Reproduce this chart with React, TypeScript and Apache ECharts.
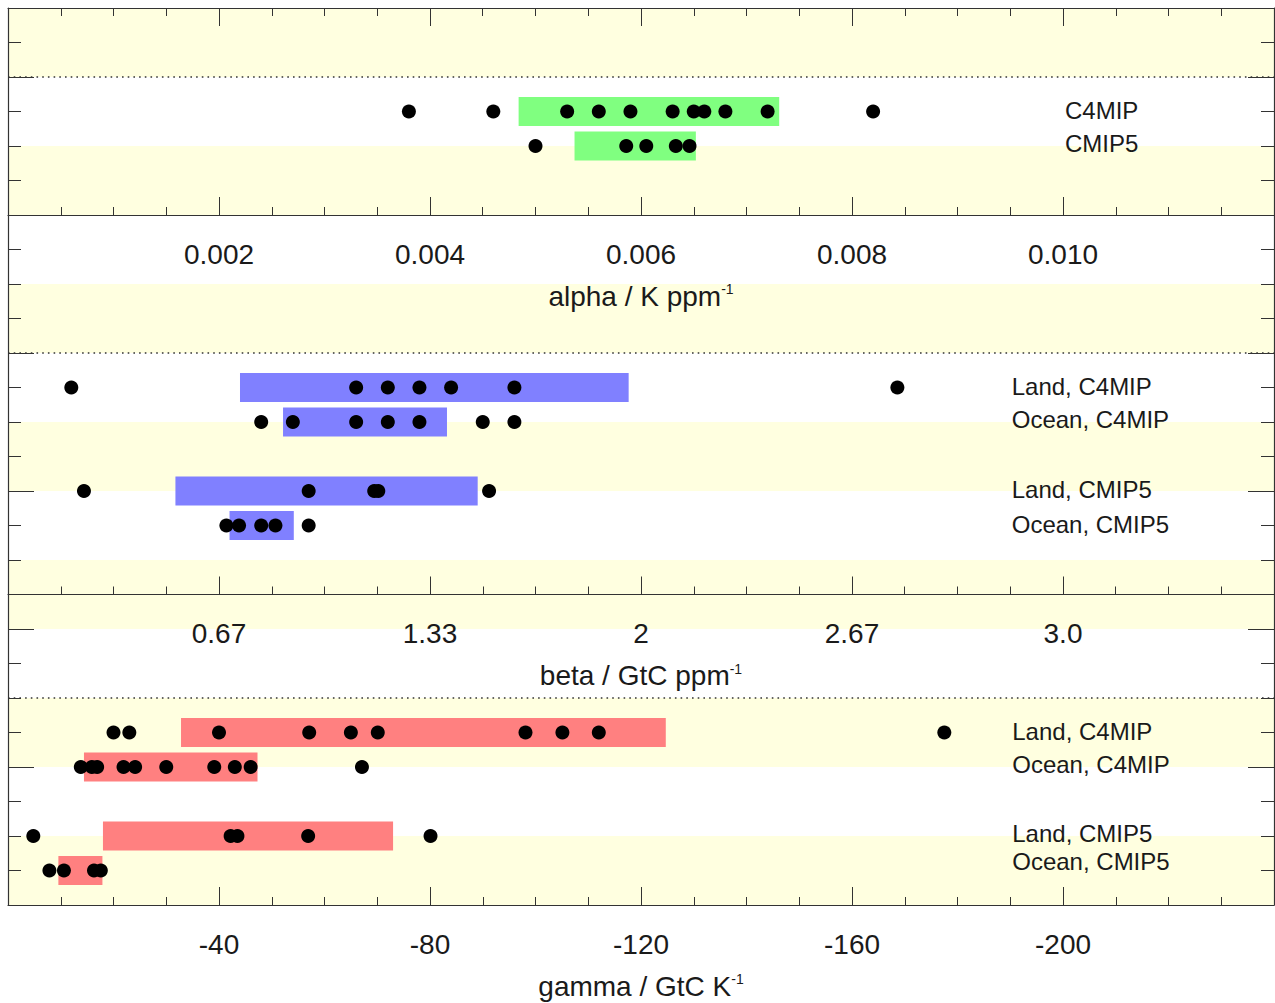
import React, { useEffect, useRef } from 'react';
import * as echarts from 'echarts';

// ---------------- data ----------------
// alpha / K ppm^-1
const alphaC4MIP = [0.0038, 0.0046, 0.0053, 0.0056, 0.0059, 0.0063, 0.0065, 0.0066, 0.0068, 0.0072, 0.0082];
const alphaCMIP5 = [0.005, 0.00586, 0.00605, 0.00633, 0.00646];
const alphaC4MIPRange = [0.00484, 0.00731];
const alphaCMIP5Range = [0.00537, 0.00652];

// beta / GtC ppm^-1
const betaLandC4MIP = [0.2, 1.1, 1.2, 1.3, 1.4, 1.6, 2.81];
const betaOceanC4MIP = [0.8, 0.9, 1.1, 1.2, 1.3, 1.5, 1.6];
const betaLandCMIP5 = [0.24, 0.95, 1.157, 1.17, 1.52];
const betaOceanCMIP5 = [0.69, 0.73, 0.8, 0.845, 0.95];
const betaLandC4MIPRange = [0.733, 1.961];
const betaOceanC4MIPRange = [0.869, 1.387];
const betaLandCMIP5Range = [0.529, 1.484];
const betaOceanCMIP5Range = [0.7, 0.903];

// gamma / GtC K^-1
const gammaLandC4MIP = [-20, -23, -40, -57.1, -65, -70.1, -98.1, -105.1, -112, -177.5];
const gammaOceanC4MIP = [-13.8, -15.9, -16.9, -21.9, -24.1, -30, -39.1, -43, -46, -67.1];
const gammaLandCMIP5 = [-4.8, -42.2, -43.5, -56.9, -80.1];
const gammaOceanCMIP5 = [-7.85, -10.6, -16.3, -17.6];
const gammaLandC4MIPRange = [-32.8, -124.7];
const gammaOceanC4MIPRange = [-14.4, -47.3];
const gammaLandCMIP5Range = [-18, -73];
const gammaOceanCMIP5Range = [-9.55, -17.9];

// rows (counted from the bottom of the frame, one unit per row)
const alphaRows = [23, 22];
const betaRows = [15, 14, 12, 11];
const gammaRows = [5, 4, 2, 1];
const alphaLabelRows = [23.04, 22.06];
const betaLabelRows = [15.04, 14.06, 12.04, 11.04];
const gammaLabelRows = [5.04, 4.06, 2.06, 1.25];

const alphaNames = ['C4MIP', 'CMIP5'];
const fourNames = ['Land, C4MIP', 'Ocean, C4MIP', 'Land, CMIP5', 'Ocean, CMIP5'];
const alphaLabelX = 0.01;
const betaLabelX = 3.165;
const gammaLabelX = -190;

const yellowBands = [
  [24, 26], [20, 22], [16, 18], [12, 14], [8, 10], [4, 6], [0, 2],
];
const dottedRows = [24, 16, 6];

const betaTickLabels = ['0.67', '1.33', '2', '2.67', '3.0'];

// ---------------- styles ----------------
const FONT = '"Liberation Sans", Arial, Helvetica, sans-serif';
const AXIS = '#333';
const TEXT = '#1a1a1a';
const BAND = '#FFFFE0';
const GREEN = '#80FF80';
const BLUE = '#8080FF';
const RED = '#FF8080';

function buildOption() {
  const nameStyle = {
    fontSize: 28,
    fontFamily: FONT,
    color: TEXT,
    rich: { sup: { fontSize: 14, fontFamily: FONT, color: TEXT, verticalAlign: 'top' } },
  };
  const xAxisBase = (o: any) => ({
    type: 'value',
    gridIndex: 0,
    position: 'bottom',
    z: 10,
    axisLine: { show: true, onZero: false, lineStyle: { color: AXIS, width: 1.2 } },
    axisTick: { show: true, inside: true, length: 18, lineStyle: { color: AXIS, width: 1 } },
    minorTick: { show: true, splitNumber: 4, length: 8, lineStyle: { color: AXIS, width: 1 } },
    splitLine: { show: false },
    minorSplitLine: { show: false },
    nameLocation: 'middle',
    nameGap: 67,
    nameTextStyle: nameStyle,
    ...o,
  });
  const tickLabel = (margin: number, formatter: any) => ({
    show: true,
    margin,
    fontSize: 28,
    fontFamily: FONT,
    color: TEXT,
    showMinLabel: false,
    showMaxLabel: false,
    formatter,
  });

  const yAxisBase = (position: string, interval: number, len: number, line: boolean) => ({
    type: 'value',
    gridIndex: 0,
    position,
    min: 0,
    max: 26,
    interval,
    z: 10,
    axisLine: { show: line, onZero: false, lineStyle: { color: AXIS, width: 1.2 } },
    axisTick: { show: true, inside: true, length: len, lineStyle: { color: AXIS, width: 1 } },
    axisLabel: { show: false },
    splitLine: { show: false },
  });

  const panels = [
    {
      axis: 0,
      color: GREEN,
      rows: alphaRows,
      dots: [alphaC4MIP, alphaCMIP5],
      ranges: [alphaC4MIPRange, alphaCMIP5Range],
      names: alphaNames,
      labelRows: alphaLabelRows,
      labelX: alphaLabelX,
    },
    {
      axis: 1,
      color: BLUE,
      rows: betaRows,
      dots: [betaLandC4MIP, betaOceanC4MIP, betaLandCMIP5, betaOceanCMIP5],
      ranges: [betaLandC4MIPRange, betaOceanC4MIPRange, betaLandCMIP5Range, betaOceanCMIP5Range],
      names: fourNames,
      labelRows: betaLabelRows,
      labelX: betaLabelX,
    },
    {
      axis: 2,
      color: RED,
      rows: gammaRows,
      dots: [gammaLandC4MIP, gammaOceanC4MIP, gammaLandCMIP5, gammaOceanCMIP5],
      ranges: [gammaLandC4MIPRange, gammaOceanC4MIPRange, gammaLandCMIP5Range, gammaOceanCMIP5Range],
      names: fourNames,
      labelRows: gammaLabelRows,
      labelX: gammaLabelX,
    },
  ];

  const series: any[] = [];

  series.push({
    type: 'custom',
    xAxisIndex: 0,
    yAxisIndex: 0,
    z: 1,
    silent: true,
    encode: { x: 0, y: [1, 2] },
    data: yellowBands.map((b) => [0, b[0], b[1]]),
    renderItem: (params: any, api: any) => {
      const cs = params.coordSys;
      const y0 = api.coord([0, api.value(1)])[1];
      const y1 = api.coord([0, api.value(2)])[1];
      return {
        type: 'rect',
        shape: { x: cs.x, y: Math.min(y0, y1), width: cs.width, height: Math.abs(y1 - y0) },
        style: { fill: BAND },
      };
    },
  });

  series.push({
    type: 'custom',
    xAxisIndex: 0,
    yAxisIndex: 0,
    z: 2,
    silent: true,
    encode: { x: 0, y: 1 },
    data: dottedRows.map((r) => [0, r]),
    renderItem: (params: any, api: any) => {
      const cs = params.coordSys;
      const y = api.coord([0, api.value(1)])[1];
      return {
        type: 'line',
        shape: { x1: cs.x, y1: y, x2: cs.x + cs.width, y2: y },
        style: { stroke: AXIS, lineWidth: 1.4, lineDash: [1.6, 4.1] },
      };
    },
  });

  panels.forEach((p) => {
    series.push({
      type: 'custom',
      xAxisIndex: p.axis,
      yAxisIndex: 0,
      z: 3,
      silent: true,
      encode: { x: [0, 1], y: 2 },
      data: p.ranges.map((r, i) => [r[0], r[1], p.rows[i]]),
      renderItem: (params: any, api: any) => {
        const s = api.coord([api.value(0), api.value(2)]);
        const e = api.coord([api.value(1), api.value(2)]);
        const h = api.size([0, 1])[1] * 0.84;
        return {
          type: 'rect',
          shape: { x: Math.min(s[0], e[0]), y: s[1] - h / 2, width: Math.abs(e[0] - s[0]), height: h },
          style: { fill: p.color },
        };
      },
    });
    const pts: number[][] = [];
    p.dots.forEach((arr, i) => arr.forEach((v) => pts.push([v, p.rows[i]])));
    series.push({
      type: 'scatter',
      xAxisIndex: p.axis,
      yAxisIndex: 0,
      z: 4,
      silent: true,
      symbol: 'circle',
      symbolSize: 14,
      itemStyle: { color: '#000', opacity: 1 },
      data: pts,
    });
    series.push({
      type: 'scatter',
      xAxisIndex: p.axis,
      yAxisIndex: 0,
      z: 4,
      silent: true,
      symbol: 'circle',
      symbolSize: 0,
      itemStyle: { color: '#000', opacity: 1 },
      label: {
        show: true,
        position: 'right',
        distance: 2,
        formatter: '{b}',
        fontSize: 24,
        fontFamily: FONT,
        color: TEXT,
        opacity: 1,
        textBorderWidth: 0,
      },
      data: p.names.map((n, i) => ({ name: n, value: [p.labelX, p.labelRows[i]] })),
    });
  });

  return {
    animation: false,
    backgroundColor: '#fff',
    grid: [{ left: 8, top: 8, width: 1266, height: 897, containLabel: false, outerBoundsMode: 'none' }],
    xAxis: [
      xAxisBase({
        min: 0,
        max: 0.012,
        interval: 0.002,
        offset: -690,
        name: 'alpha / K ppm{sup|-1}',
        axisLabel: tickLabel(25, (v: number) => v.toFixed(3)),
      }),
      xAxisBase({
        min: 0,
        max: 4,
        interval: 2 / 3,
        offset: -310.5,
        name: 'beta / GtC ppm{sup|-1}',
        axisLabel: tickLabel(25, (v: number) => {
          const i = Math.round(v * 1.5);
          return i >= 1 && i <= betaTickLabels.length ? betaTickLabels[i - 1] : '';
        }),
      }),
      xAxisBase({
        min: -240,
        max: 0,
        interval: 40,
        inverse: true,
        offset: 0,
        name: 'gamma / GtC K{sup|-1}',
        axisLabel: tickLabel(25, (v: number) => String(v)),
      }),
      xAxisBase({
        min: 0,
        max: 0.012,
        interval: 0.002,
        position: 'top',
        offset: 0,
        axisLabel: { show: false },
        name: '',
      }),
    ],
    yAxis: [
      yAxisBase('left', 1, 13, true),
      yAxisBase('left', 4, 26, false),
      yAxisBase('right', 1, 13, true),
      yAxisBase('right', 4, 26, false),
    ],
    series,
  };
}

export default function App() {
  const ref = useRef<HTMLDivElement>(null);
  useEffect(() => {
    if (!ref.current) return;
    const chart = echarts.init(ref.current, null, { renderer: 'svg' });
    chart.setOption(buildOption() as any);
    return () => chart.dispose();
  }, []);
  return (
    <div
      ref={ref}
      style={{ position: 'fixed', left: 0, top: 0, width: 1275, height: 1003, background: '#fff' }}
    />
  );
}
